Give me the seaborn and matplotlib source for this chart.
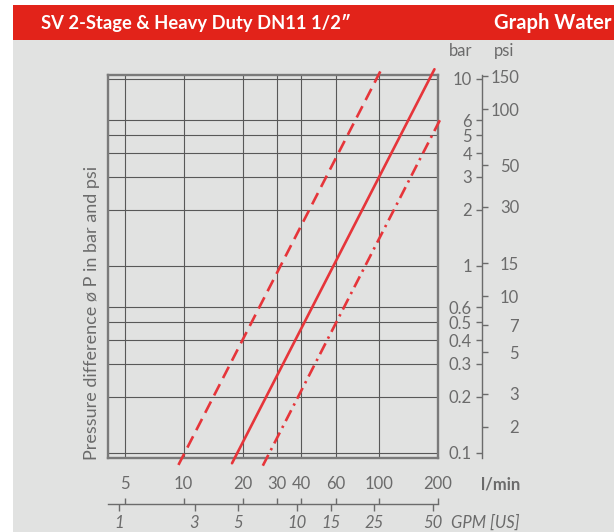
import matplotlib
matplotlib.use("Agg")
import matplotlib.pyplot as plt
from matplotlib.patches import Rectangle
from matplotlib.ticker import NullLocator, FixedLocator, FixedFormatter
import seaborn as sns
import pandas as pd

sns.set_style("white")
plt.rcParams['font.family'] = ['Lato', 'DejaVu Sans']

# ---------------- data ----------------
flow_ticks = [5, 10, 20, 30, 40, 60, 100, 200]            # l/min
flow_tick_labels = ['5', '10', '20', '30', '40', '60', '100', '200']
bar_ticks = [0.1, 0.2, 0.3, 0.4, 0.5, 0.6, 1, 2, 3, 4, 5, 6, 10]
bar_tick_labels = ['0.1', '0.2', '0.3', '0.4', '0.5', '0.6', '1', '2', '3', '4', '5', '6', '10']
psi_values = [2, 3, 5, 7, 10, 15, 30, 50, 100, 150]
PSI_PER_BAR = 14.5038
gpm_labels = ['1', '3', '5', '10', '15', '25', '50']
gpm_pos_lmin = [4.65, 11.36, 18.93, 37.85, 56.78, 94.64, 189.3]

flow_dashed = [9.4, 103.5]
dp_dashed = [0.0863, 11.45]
flow_solid = [17.67, 191.8]
dp_solid = [0.0881, 11.27]
flow_dashdot = [25.4, 208.9]
dp_dashdot = [0.0855, 6.29]

title_left = "SV 2-Stage & Heavy Duty DN11 1/2\u2033"
title_right = "Graph Water"
ylabel = "Pressure difference \u00f8 P in bar and psi"

# ---------------- style ----------------
W, H = 614, 532
RED = '#e6353a'
HEAD = '#e2231a'
BG = '#e1e2e1'
TXT = '#6b6b6b'
GRID = '#585858'
FRAME = '#7a7a7a'

def fx(px):
    return px / W

def fy(py):
    return 1 - py / H

fig = plt.figure(figsize=(W / 100, H / 100), dpi=100, facecolor='white')
fig.patches.append(Rectangle((fx(13), 0), 1 - fx(13), fy(40), transform=fig.transFigure,
                             facecolor=BG, edgecolor='none', zorder=-2))
fig.patches.append(Rectangle((fx(13), fy(40)), 1 - fx(13), fy(5) - fy(40), transform=fig.transFigure,
                             facecolor=HEAD, edgecolor='none', zorder=-2))
fig.text(fx(41), fy(29), title_left, color='white', fontsize=13.2, fontweight='bold',
         ha='left', va='baseline')
fig.text(fx(611), fy(29), title_right, color='white', fontsize=14.5, fontweight='bold',
         ha='right', va='baseline')

XMIN, XMAX = 4.1, 200
YMIN, YMAX = 0.094, 10.5

# main axes
ax = fig.add_axes([fx(108), fy(458), (438 - 108) / W, (458 - 75) / H])
ax.set_facecolor('none')
ax.set_xscale('log')
ax.set_yscale('log')
ax.set_xlim(XMIN, XMAX)
ax.set_ylim(YMIN, YMAX)
ax.xaxis.set_major_locator(FixedLocator(flow_ticks))
ax.yaxis.set_major_locator(FixedLocator(bar_ticks))
ax.xaxis.set_minor_locator(NullLocator())
ax.yaxis.set_minor_locator(NullLocator())
ax.tick_params(length=0, labelbottom=False, labelleft=False)
ax.grid(True, which='major', color=GRID, lw=0.8)
for s in ax.spines.values():
    s.set_color(FRAME)
    s.set_linewidth(1.7)

series = [
    (flow_dashed, dp_dashed, (0, (4.8, 2.6))),
    (flow_solid, dp_solid, '-'),
    (flow_dashdot, dp_dashdot, (0, (4.6, 2.0, 0.9, 2.0))),
]
for fl, dp, ls in series:
    df = pd.DataFrame({'flow': fl, 'dp': dp})
    n_before = len(ax.lines)
    sns.lineplot(data=df, x='flow', y='dp', ax=ax, color=RED, lw=1.9)
    for ln in ax.lines[n_before:]:
        ln.set_linestyle(ls)
        ln.set_clip_on(False)
        ln.set_zorder(5)
ax.set_xlabel('')
ax.set_ylabel('')

fig.text(fx(91.7), fy(313), ylabel, rotation=90, color=TXT, fontsize=13,
         ha='center', va='center')

# right scale: bar (left side of spine) and psi (right side)
OFF = 1 + (481.7 - 438) / (438 - 108)
ax_bar = ax.twinx()
ax_bar.set_yscale('log')
ax_bar.set_ylim(YMIN, YMAX)
for k, s in ax_bar.spines.items():
    s.set_visible(k == 'left')
ax_bar.spines['left'].set_position(('axes', OFF))
ax_bar.spines['left'].set_color(TXT)
ax_bar.spines['left'].set_linewidth(1.0)
ax_bar.yaxis.set_ticks_position('left')
ax_bar.yaxis.set_label_position('left')
ax_bar.yaxis.set_major_locator(FixedLocator(bar_ticks))
ax_bar.yaxis.set_major_formatter(FixedFormatter(bar_tick_labels))
ax_bar.yaxis.set_minor_locator(NullLocator())
ax_bar.tick_params(axis='y', direction='out', length=4, width=1.0, color=TXT,
                   labelcolor=TXT, labelsize=12, pad=3)

ax_psi = ax.twinx()
ax_psi.set_yscale('log')
ax_psi.set_ylim(YMIN, YMAX)
for k, s in ax_psi.spines.items():
    s.set_visible(False)
ax_psi.yaxis.set_ticks_position('right')
ax_psi.yaxis.set_major_locator(FixedLocator([p / PSI_PER_BAR for p in psi_values]))
ax_psi.yaxis.set_major_formatter(FixedFormatter([str(p) for p in psi_values]))
ax_psi.yaxis.set_minor_locator(NullLocator())
ax_psi.spines['right'].set_position(('axes', OFF))
ax_psi.tick_params(axis='y', direction='out', length=4, width=1.0, color=TXT,
                   labelcolor=TXT, labelsize=12, pad=23)
for lab in ax_psi.get_yticklabels():
    lab.set_horizontalalignment('right')

fig.text(fx(461), fy(51), 'bar', color=TXT, fontsize=12, ha='center', va='center')
fig.text(fx(504), fy(51), 'psi', color=TXT, fontsize=12, ha='center', va='center')

# bottom scales: l/min above the line, GPM below
ax_b = fig.add_axes([fx(108), fy(504), (438 - 108) / W, 1e-4])
ax_b.set_facecolor('none')
ax_b.set_xscale('log')
ax_b.set_xlim(XMIN, XMAX)
ax_b.set_yticks([])

ax_g = ax_b.twiny()
ax_g.set_facecolor('none')
ax_g.set_xscale('log')
ax_g.set_xlim(XMIN, XMAX)
for s in ax_g.spines.values():
    s.set_visible(False)
ax_g.xaxis.set_ticks_position('bottom')
ax_g.xaxis.set_label_position('bottom')
ax_g.xaxis.set_major_locator(FixedLocator(gpm_pos_lmin))
ax_g.xaxis.set_major_formatter(FixedFormatter(gpm_labels))
ax_g.xaxis.set_minor_locator(NullLocator())
ax_g.tick_params(axis='x', direction='out', length=5, width=1.0, color=TXT,
                 labelcolor=TXT, labelsize=12, pad=3,
                 bottom=True, labelbottom=True, top=False, labeltop=False)
for lab in ax_g.get_xticklabels():
    lab.set_fontstyle('italic')

for k, s in ax_b.spines.items():
    s.set_visible(k == 'bottom')
ax_b.spines['bottom'].set_color(TXT)
ax_b.spines['bottom'].set_linewidth(1.0)
ax_b.xaxis.set_ticks_position('top')
ax_b.xaxis.set_major_locator(FixedLocator(flow_ticks))
ax_b.xaxis.set_major_formatter(FixedFormatter(flow_tick_labels))
ax_b.xaxis.set_minor_locator(NullLocator())
ax_b.tick_params(axis='x', direction='out', length=4.3, width=1.0, color=TXT,
                 labelcolor=TXT, labelsize=12, pad=4,
                 top=True, labeltop=True, bottom=False, labelbottom=False)

fig.text(fx(481), fy(485), 'l/min', color=TXT, fontsize=12, fontweight='bold',
         ha='left', va='center')
fig.text(fx(451), fy(523), 'GPM [US]', color=TXT, fontsize=12, fontstyle='italic',
         ha='left', va='center')

fig.savefig('out.png', dpi=100, facecolor='white')
